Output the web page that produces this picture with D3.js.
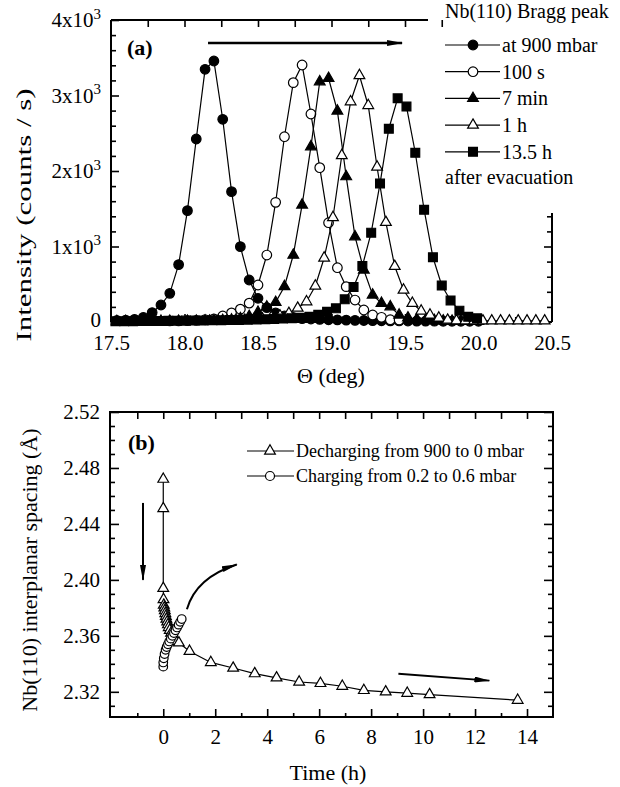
<!DOCTYPE html>
<html>
<head>
<meta charset="utf-8">
<script src="https://cdn.jsdelivr.net/npm/d3@7"></script>
<style>
body { margin: 0; background: #fff; }
svg { font-family: "Liberation Serif", "Times New Roman", serif; }
</style>
</head>
<body>
<div id="chart"></div>
<script>
// ---- panel (a) data: Nb(110) Bragg peak ----
var thetaGrid = [17.54,17.60,17.66,17.72,17.78,17.84,17.90,17.96,18.02,18.08,18.14,18.20,18.26,18.32,18.38,18.44,18.50,18.56,18.62,18.68,18.74,18.80,18.86,18.92,18.98,19.04,19.10,19.16,19.22,19.28,19.34,19.40,19.46,19.52,19.58,19.64,19.70,19.76,19.82,19.88,19.94,20.00];
var int900 = [20,24,35,62,125,225,380,760,1475,2424,3347,3457,2685,1726,998,556,314,190,120,80,60,45,40,35,30,28,25,22,20,18,16,15,14,13,12,12,11,10,10,10,10,10];
var theta100s = [17.90,17.96,18.02,18.08,18.14,18.20,18.26,18.32,18.38,18.44,18.50,18.56,18.62,18.68,18.74,18.80,18.86,18.92,18.98,19.04,19.10,19.16,19.22,19.28,19.34,19.40,19.46];
var int100s = [15,15,18,22,30,42,80,120,170,250,490,887,1585,2454,3170,3404,2755,2044,1315,719,468,291,159,93,62,30,26];
var int7min = [8,8,8,9,9,10,10,10,11,12,13,15,20,28,45,75,130,200,260,470,887,1550,2322,3183,3228,2795,1925,1130,689,358,248,203,93,55,35,25,20,15,12,10,10,8];
var theta1h = [18.17,18.23,18.29,18.35,18.41,18.47,18.53,18.59,18.65,18.71,18.77,18.83,18.89,18.95,19.01,19.07,19.13,19.19,19.25,19.31,19.37,19.43,19.49,19.55,19.61,19.67,19.73,19.79,19.85,19.91,19.97,20.03,20.09,20.15,20.21,20.27,20.33,20.39,20.45];
var int1h = [12,14,16,20,25,32,42,60,80,115,185,269,477,848,1384,2205,2918,3265,2868,2053,1320,738,424,248,146,93,53,25,18,16,15,15,15,15,15,15,15,15,15];
var theta13h = [17.53,17.59,17.65,17.71,17.77,17.83,17.89,17.95,18.01,18.07,18.13,18.19,18.25,18.31,18.37,18.43,18.49,18.55,18.61,18.67,18.73,18.79,18.85,18.91,18.97,19.03,19.09,19.15,19.21,19.27,19.33,19.39,19.45,19.51,19.57,19.63,19.69,19.75,19.81,19.87,19.93,19.99];
var int13h = [10,10,11,12,13,14,15,16,18,19,20,22,24,26,28,30,33,36,40,45,50,57,70,95,135,181,300,464,742,1183,1834,2560,2963,2854,2242,1487,857,483,285,150,70,49];
var legendA = ["at 900 mbar", "100 s", "7 min", "1 h", "13.5 h"];
var thetaTicks = [17.5, 18.0, 18.5, 19.0, 19.5, 20.0, 20.5];
var intensityTicks = [0, 1000, 2000, 3000, 4000];

// ---- panel (b) data: interplanar spacing vs time ----
var tDecharge = [0,0,0,0.01,0.02,0.04,0.06,0.08,0.10,0.12,0.15,0.18,0.21,0.25,0.30,0.36,0.43,0.50,0.60,1.01,1.83,2.69,3.52,4.36,5.23,6.05,6.89,7.72,8.56,9.39,10.25,13.64];
var dDecharge = [2.472,2.451,2.394,2.386,2.382,2.380,2.378,2.376,2.374,2.372,2.370,2.368,2.366,2.364,2.362,2.360,2.358,2.356,2.355,2.349,2.341,2.337,2.333,2.330,2.327,2.326,2.324,2.321,2.320,2.319,2.318,2.314];
var tCharge = [0,0,0.02,0.05,0.09,0.13,0.18,0.23,0.29,0.35,0.41,0.47,0.53,0.59,0.65,0.71];
var dCharge = [2.338,2.341,2.344,2.347,2.350,2.352,2.354,2.356,2.358,2.360,2.362,2.364,2.366,2.368,2.370,2.372];
var legendB = ["Decharging from 900 to 0 mbar", "Charging from 0.2 to 0.6 mbar"];
var timeTicks = [0, 2, 4, 6, 8, 10, 12, 14];
var spacingTicks = [2.32, 2.36, 2.40, 2.44, 2.48, 2.52];

var svg = d3.select("#chart")
    .append("svg")
        .attr("width", 620)
        .attr("height", 787);

svg.append("rect").attr("width", 620).attr("height", 787).attr("fill", "#fff");

var defs = svg.append("defs");
defs.append("marker")
    .attr("id", "arrow")
    .attr("viewBox", "0 0 16 6")
    .attr("refX", 15).attr("refY", 3)
    .attr("markerWidth", 16).attr("markerHeight", 6)
    .attr("markerUnits", "userSpaceOnUse")
    .attr("orient", "auto")
  .append("path")
    .attr("d", "M0,0L16,3L0,6Z")
    .attr("fill", "#000");

// draws one tick axis with inward ticks, optional labels
function tickAxis(axisFn, scale, values, size, pos, fmt, pad) {
    var ax = axisFn(scale).tickValues(values).tickSizeInner(-size).tickSizeOuter(0)
        .tickPadding(pad || 0).tickFormat(fmt || "");
    var g = svg.append("g").attr("transform", pos).call(ax);
    g.select(".domain").remove();
    g.attr("font-family", null).attr("font-size", 21);
    g.selectAll(".tick line").attr("stroke-width", 1.6);
    return g;
}

function drawMarker(sel, kind, r) {
    if (kind == "circle" || kind == "ocircle") {
        sel.append("circle").attr("r", r)
            .attr("fill", kind == "circle" ? "#000" : "#fff")
            .attr("stroke", "#000").attr("stroke-width", 1.2);
    } else {
        var sym = kind == "square" ? d3.symbolSquare : d3.symbolTriangle;
        var size = kind == "square" ? 78 : 50;
        sel.append("path").attr("d", d3.symbol(sym, size)())
            .attr("fill", (kind == "otri") ? "#fff" : "#000")
            .attr("stroke", "#000").attr("stroke-width", 1.2);
    }
}

function drawSeries(xs, ys, xScale, yScale, kind, r) {
    var pts = xs.map(function(d, i) { return [d, ys[i]]; });
    svg.append("path")
        .datum(pts)
        .attr("fill", "none")
        .attr("stroke", "#000")
        .attr("stroke-width", 1.2)
        .attr("d", d3.line().x(function(d) { return xScale(d[0]); }).y(function(d) { return yScale(d[1]); }));
    svg.append("g").selectAll("g")
        .data(pts).enter().append("g")
        .attr("transform", function(d) { return "translate(" + xScale(d[0]) + "," + yScale(d[1]) + ")"; })
        .each(function() { drawMarker(d3.select(this), kind, r); });
}

///////////////// panel (a) /////////////////
var xA = d3.scaleLinear().domain([17.5, 20.5]).range([111, 552]);
var yA = d3.scaleLinear().domain([0, 4000]).range([322, 20]);

// frame (top and right partly hidden behind the legend)
svg.append("line").attr("x1", xA(17.5)).attr("y1", yA(0)).attr("x2", xA(17.5)).attr("y2", yA(4000));
svg.append("line").attr("x1", xA(17.5)).attr("y1", yA(0)).attr("x2", xA(20.5)).attr("y2", yA(0));
svg.append("line").attr("x1", xA(17.5)).attr("y1", yA(4000)).attr("x2", 428).attr("y2", yA(4000));
svg.append("line").attr("x1", xA(20.5)).attr("y1", yA(0)).attr("x2", xA(20.5)).attr("y2", 213);
svg.selectAll("line").attr("stroke", "#000").attr("stroke-width", 2);

var yMinorA = d3.range(200, 4000, 200).filter(function(v) { return v % 1000 != 0; });
var gl = tickAxis(d3.axisLeft, yA, intensityTicks, 8, "translate(111,0)", function(d) { return d; }, 10);
gl.selectAll(".tick text").each(function(d) {
    var t = d3.select(this);
    if (d > 0) {
        t.text("");
        t.append("tspan").text((d / 1000) + "x10");
        t.append("tspan").attr("dy", "-0.55em").attr("font-size", 15).text("3");
    } else {
        t.attr("dy", "0.2em");
    }
});
tickAxis(d3.axisLeft, yA, yMinorA, 5, "translate(111,0)");
tickAxis(d3.axisBottom, xA, thetaTicks.slice(1, -1), 8, "translate(0,322)");
tickAxis(d3.axisBottom, xA, thetaTicks, 0, "translate(0,322)", d3.format(".1f"), 13);
tickAxis(d3.axisBottom, xA, d3.range(17.75, 20.5, 0.5), 5, "translate(0,322)");
tickAxis(d3.axisTop, xA, d3.range(17.75, 19.8, 0.25), 7, "translate(0,20)");
tickAxis(d3.axisRight, yA, [200, 400, 600, 800, 1200, 1400], 5, "translate(552,0)");
tickAxis(d3.axisRight, yA, [1000], 8, "translate(552,0)");

drawSeries(thetaGrid, int900, xA, yA, "circle", 4.8);
drawSeries(theta100s, int100s, xA, yA, "ocircle", 4.8);
drawSeries(thetaGrid, int7min, xA, yA, "tri", 4.8);
drawSeries(theta1h, int1h, xA, yA, "otri", 4.8);
drawSeries(theta13h, int13h, xA, yA, "square", 4.8);

// arrow showing the peak shift
svg.append("line")
    .attr("x1", xA(18.16)).attr("y1", yA(3695))
    .attr("x2", xA(19.48)).attr("y2", yA(3695))
    .attr("stroke", "#000").attr("stroke-width", 2.5)
    .attr("marker-end", "url(#arrow)");

svg.append("text").attr("x", 127).attr("y", 55)
    .attr("font-size", 22).attr("font-weight", "bold").text("(a)");

// legend (a)
var kindsA = ["circle", "ocircle", "tri", "otri", "square"];
svg.append("text").attr("x", 445).attr("y", 18).attr("font-size", 20).text("Nb(110) Bragg peak");
legendA.forEach(function(name, i) {
    var cy = 45 + i * 26.7;
    svg.append("line").attr("x1", 445).attr("x2", 500).attr("y1", cy).attr("y2", cy)
        .attr("stroke", "#000").attr("stroke-width", 1.2);
    drawMarker(svg.append("g").attr("transform", "translate(473," + cy + ")"), kindsA[i], 4.8);
    svg.append("text").attr("x", 502).attr("y", cy + 7).attr("font-size", 20).text(name);
});
svg.append("text").attr("x", 445).attr("y", 184).attr("font-size", 20).text("after evacuation");

svg.append("text")
    .attr("transform", "translate(31,215) rotate(-90)")
    .attr("text-anchor", "middle")
    .attr("font-size", 22)
    .attr("textLength", 253).attr("lengthAdjust", "spacingAndGlyphs")
    .text("Intensity (counts / s)");
svg.append("text").attr("x", 331).attr("y", 383)
    .attr("text-anchor", "middle").attr("font-size", 22).text("\u0398 (deg)");

///////////////// panel (b) /////////////////
var xB = d3.scaleLinear().domain([-2.05, 15]).range([110, 553]);
var yB = d3.scaleLinear().domain([2.302, 2.52]).range([717, 412]);

svg.append("rect")
    .attr("x", xB(-2.05)).attr("y", yB(2.52))
    .attr("width", xB(15) - xB(-2.05)).attr("height", yB(2.302) - yB(2.52))
    .attr("fill", "none").attr("stroke", "#000").attr("stroke-width", 2);

var yMinorB = [2.31, 2.33, 2.34, 2.35, 2.37, 2.38, 2.39, 2.41, 2.42, 2.43, 2.45, 2.46, 2.47, 2.49, 2.50, 2.51];
var xMinorB = [-1, 1, 3, 5, 7, 9, 11, 13];
tickAxis(d3.axisLeft, yB, spacingTicks, 9, "translate(110,0)", d3.format(".2f"), 10);
tickAxis(d3.axisLeft, yB, yMinorB, 5, "translate(110,0)");
tickAxis(d3.axisRight, yB, spacingTicks, 9, "translate(553,0)");
tickAxis(d3.axisRight, yB, yMinorB, 5, "translate(553,0)");
tickAxis(d3.axisBottom, xB, timeTicks, 8, "translate(0,717)", d3.format("d"), 12);
tickAxis(d3.axisBottom, xB, xMinorB, 4, "translate(0,717)");
tickAxis(d3.axisTop, xB, timeTicks.concat(xMinorB), 7, "translate(0,412)");

drawSeries(tDecharge, dDecharge, xB, yB, "otri", 4.5);
drawSeries(tCharge, dCharge, xB, yB, "ocircle", 4.3);

// arrows
svg.append("line")
    .attr("x1", xB(-0.78)).attr("y1", yB(2.455))
    .attr("x2", xB(-0.78)).attr("y2", yB(2.400))
    .attr("stroke", "#000").attr("stroke-width", 2)
    .attr("marker-end", "url(#arrow)");
svg.append("path")
    .attr("d", "M" + xB(0.91) + "," + yB(2.379) + "Q" + xB(1.26) + "," + yB(2.4017) + " " + xB(2.83) + "," + yB(2.411))
    .attr("fill", "none").attr("stroke", "#000").attr("stroke-width", 2)
    .attr("marker-end", "url(#arrow)");
svg.append("line")
    .attr("x1", xB(9.05)).attr("y1", yB(2.333))
    .attr("x2", xB(12.55)).attr("y2", yB(2.328))
    .attr("stroke", "#000").attr("stroke-width", 2)
    .attr("marker-end", "url(#arrow)");

svg.append("text").attr("x", 128).attr("y", 450)
    .attr("font-size", 22).attr("font-weight", "bold").text("(b)");

// legend (b)
var kindsB = ["otri", "ocircle"];
legendB.forEach(function(name, i) {
    var cy = 451 + i * 25;
    svg.append("line").attr("x1", 247).attr("x2", 294).attr("y1", cy).attr("y2", cy)
        .attr("stroke", "#000").attr("stroke-width", 1.2);
    drawMarker(svg.append("g").attr("transform", "translate(270," + cy + ")"), kindsB[i], 4.5);
    svg.append("text").attr("x", 296).attr("y", cy + 6).attr("font-size", 18).text(name);
});

svg.append("text")
    .attr("transform", "translate(37,570) rotate(-90)")
    .attr("text-anchor", "middle")
    .attr("font-size", 22)
    .text("Nb(110) interplanar spacing (\u00C5)");
svg.append("text").attr("x", 328).attr("y", 780)
    .attr("text-anchor", "middle").attr("font-size", 22).text("Time (h)");
</script>
</body>
</html>
